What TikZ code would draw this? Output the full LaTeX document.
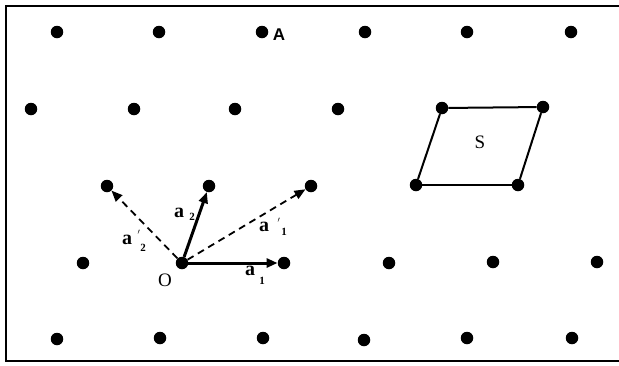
\documentclass[tikz,border=0pt]{standalone}
\usepackage{fontspec}
\setmainfont{Liberation Serif}
\newfontfamily\lsans{Liberation Sans}
\usetikzlibrary{arrows.meta}
\begin{document}
\begin{tikzpicture}[x=1pt,y=-1pt,
  pt/.style={circle,fill=black,inner sep=0pt,minimum size=12.5pt},
  vec/.style={line width=3pt,-{Triangle[length=11pt,width=9pt]}},
  dvec/.style={line width=1.8pt,dash pattern=on 7pt off 5pt,-{Triangle[length=11pt,width=9pt]}},
  lab/.style={inner sep=0pt,font=\fontsize{20}{20}\selectfont\bfseries},
  sub/.style={inner sep=0pt,font=\fontsize{11}{11}\selectfont\bfseries},
  txt/.style={inner sep=0pt,font=\fontsize{19}{19}\selectfont}]
\useasboundingbox (0,0) rectangle (619,365);
\draw[line width=2pt] (625,6) -- (6,6) -- (6,361) -- (625,361);
% row 1
\node[pt] (r1a) at (57,32) {};
\node[pt] (r1b) at (159,32) {};
\node[pt] (A) at (262,32) {};
\node[pt] (r1d) at (365,32) {};
\node[pt] (r1e) at (467,32) {};
\node[pt] (r1f) at (571,32) {};
% row 2
\node[pt] (r2a) at (31,109) {};
\node[pt] (r2b) at (134,109) {};
\node[pt] (r2c) at (235,109) {};
\node[pt] (r2d) at (338,109) {};
\node[pt] (s1) at (442,108) {};
\node[pt] (s2) at (543,107) {};
% row 3
\node[pt] (p2) at (107,186) {};
\node[pt] (q2) at (209,186) {};
\node[pt] (p1) at (311,186) {};
\node[pt] (s4) at (416,185) {};
\node[pt] (s3) at (518,185) {};
% row 4
\node[pt] (r4a) at (83,263) {};
\node[pt] (O) at (182,263) {};
\node[pt] (q1) at (284,263) {};
\node[pt] (r4d) at (389,263) {};
\node[pt] (r4e) at (493,262) {};
\node[pt] (r4f) at (597,262) {};
% row 5
\node[pt] (r5a) at (57,339) {};
\node[pt] (r5b) at (160,338) {};
\node[pt] (r5c) at (263,338) {};
\node[pt] (r5d) at (364,340) {};
\node[pt] (r5e) at (467,338) {};
\node[pt] (r5f) at (572,338) {};
% cell S
\draw[line width=2pt] (s1) -- (s2);
\draw[line width=2pt] (s2) -- (s3);
\draw[line width=2pt] (s3) -- (s4);
\draw[line width=2pt] (s4) -- (s1);
\node[txt] (S) at (480,142) {S};
% vectors
\draw[vec] (O) -- (q1);
\draw[vec] (O) -- (q2);
\draw[dvec] (O) -- (p1);
\draw[dvec] (O) -- (p2);
% labels
\node[txt] (Olab) at (165,280) {O};
\node[inner sep=0pt,font=\fontsize{17}{17}\selectfont\lsans\bfseries] (Alab) at (279,35) {A};
\node[lab] (a1) at (250,271) {a};
\node[sub] (a1s) at (262,281) {1};
\node[lab] (a2) at (179,213) {a};
\node[sub] (a2s) at (192,217) {2};
\node[lab] (ap1) at (264,227) {a};
\node[sub] (ap1p) at (279,222) {$'$};
\node[sub] (ap1s) at (284,232) {1};
\node[lab] (ap2) at (127,240) {a};
\node[sub] (ap2p) at (139,234) {$'$};
\node[sub] (ap2s) at (143,248) {2};
\end{tikzpicture}
\end{document}
